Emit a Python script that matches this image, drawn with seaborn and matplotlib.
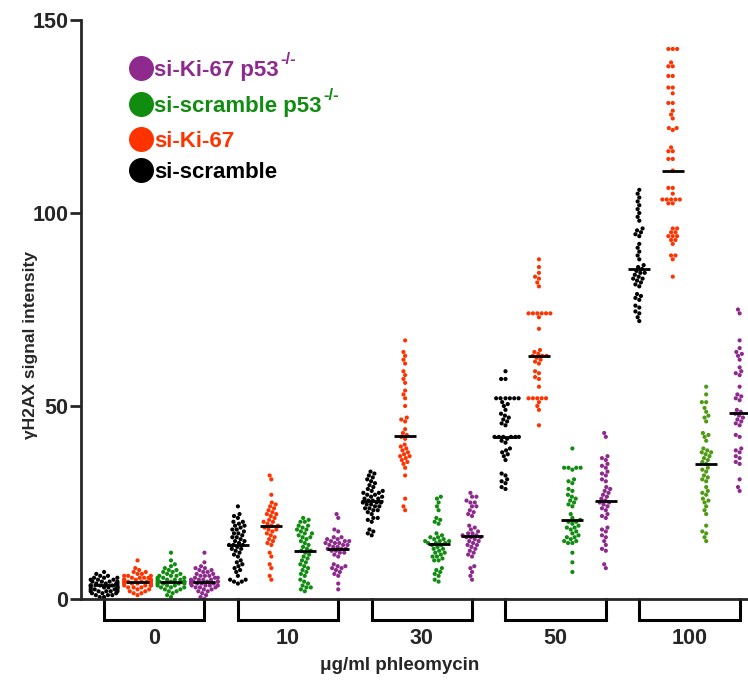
import numpy as np
import pandas as pd
import matplotlib
matplotlib.use("Agg")
import matplotlib.pyplot as plt
import matplotlib.transforms as mtransforms
import seaborn as sns

sns.set_style("ticks")
plt.rcParams["font.family"] = ["Liberation Sans", "DejaVu Sans"]

DOSES = ["0", "10", "30", "50", "100"]
CONDITIONS = ["si-scramble", "si-Ki-67", "si-scramble p53-/-", "si-Ki-67 p53-/-"]

# ---- 0 ug/ml ----
SCR_0 = [7.0, 6.5, 6.0, 6.0, 5.5, 5.5, 5.5, 5.0, 5.0, 5.0, 4.5, 4.5, 4.5, 4.5, 4.0, 4.0, 4.0, 4.0,
         3.5, 3.5, 3.5, 3.5, 3.5, 3.0, 3.0, 3.0, 3.0, 3.0, 2.5, 2.5, 2.5, 2.5, 2.0, 2.0, 2.0, 2.0,
         2.0, 1.5, 1.5, 1.5, 1.0, 1.0, 1.0, 0.5, 0.5]
KI_0 = [10.0, 8.0, 7.5, 7.0, 7.0, 6.5, 6.5, 6.0, 6.0, 6.0, 5.5, 5.5, 5.5, 5.5, 5.0, 5.0, 5.0, 5.0,
        5.0, 4.5, 4.5, 4.5, 4.5, 4.5, 4.0, 4.0, 4.0, 4.0, 3.5, 3.5, 3.5, 3.5, 3.0, 3.0, 3.0, 2.5,
        2.5, 2.0, 2.0, 1.5, 1.5, 1.0]
SCRP_0 = [12.0, 10.0, 9.0, 8.5, 8.0, 7.5, 7.5, 7.0, 7.0, 6.5, 6.5, 6.0, 6.0, 6.0, 5.5, 5.5, 5.5,
          5.0, 5.0, 5.0, 5.0, 4.5, 4.5, 4.5, 4.5, 4.5, 4.0, 4.0, 4.0, 4.0, 3.5, 3.5, 3.5, 3.0, 3.0,
          3.0, 2.5, 2.5, 2.0, 2.0, 1.5, 1.0, 0.5]
KIP_0 = [12.0, 9.5, 8.5, 8.0, 8.0, 7.5, 7.5, 7.0, 7.0, 6.5, 6.5, 6.0, 6.0, 6.0, 5.5, 5.5, 5.5,
         5.0, 5.0, 5.0, 5.0, 4.5, 4.5, 4.5, 4.5, 4.5, 4.0, 4.0, 4.0, 4.0, 3.5, 3.5, 3.5, 3.5, 3.0,
         3.0, 3.0, 2.5, 2.5, 2.0, 2.0, 1.5, 1.0, 0.5, 0.0]

# ---- 10 ug/ml ----
SCR_10 = [24.0, 22.0, 21.5, 21.0, 20.0, 20.0, 19.5, 19.0, 19.0, 18.5, 18.0, 18.0, 17.5, 17.0, 17.0,
          16.5, 16.0, 16.0, 15.5, 15.0, 15.0, 14.5, 14.0, 14.0, 14.0, 13.5, 13.0, 13.0, 12.5, 12.0,
          11.5, 11.0, 10.0, 9.5, 9.0, 8.5, 8.0, 7.5, 7.0, 6.0, 5.0, 5.0, 4.5, 4.5, 4.0]
KI_10 = [32.0, 31.0, 27.0, 25.0, 24.5, 24.0, 23.5, 23.0, 22.5, 22.0, 22.0, 21.5, 21.0, 20.5, 20.0,
         20.0, 19.5, 19.0, 19.0, 18.5, 18.0, 18.0, 17.5, 17.0, 16.5, 16.0, 15.5, 15.0, 14.5, 14.0,
         12.0, 11.0, 9.0, 8.0, 6.0, 5.0]
SCRP_10 = [21.0, 20.5, 20.0, 20.0, 19.0, 19.0, 18.5, 18.0, 18.0, 17.5, 17.0, 17.0, 16.5, 16.0, 16.0,
           15.5, 15.0, 14.5, 14.0, 13.5, 13.0, 12.5, 12.5, 12.0, 11.5, 11.0, 10.5, 10.0, 9.5, 9.0,
           8.5, 8.0, 7.5, 7.0, 6.5, 6.0, 5.0, 4.5, 4.0, 3.5, 3.0, 3.0, 2.5, 2.0]
KIP_10 = [22.0, 21.0, 18.0, 17.5, 16.0, 16.0, 15.5, 15.5, 15.0, 15.0, 15.0, 14.5, 14.5, 14.5, 14.0,
          14.0, 14.0, 13.5, 13.5, 13.0, 13.0, 13.0, 12.5, 12.5, 12.0, 12.0, 11.5, 11.0, 9.0, 8.5,
          8.5, 8.0, 8.0, 7.5, 7.0, 6.5, 6.0, 4.0, 2.5]

# ---- 30 ug/ml ----
SCR_30 = [33.0, 32.5, 32.0, 31.5, 31.0, 30.5, 30.0, 29.5, 29.0, 28.5, 28.0, 28.0, 27.5, 27.5, 27.0,
          27.0, 26.5, 26.5, 26.0, 26.0, 25.5, 25.5, 25.0, 25.0, 25.0, 24.5, 24.5, 24.0, 24.0, 23.5,
          23.5, 23.0, 23.0, 22.5, 22.0, 21.0, 21.0, 20.5, 20.0, 18.0, 17.5, 17.0, 16.5]
KI_30 = [67.0, 64.0, 63.0, 62.0, 61.0, 59.0, 58.0, 57.0, 56.0, 54.0, 53.0, 52.0, 50.0, 47.0, 46.5,
         46.0, 44.0, 43.0, 42.5, 42.0, 41.5, 40.0, 39.5, 39.0, 38.5, 38.0, 37.5, 37.0, 37.0, 36.5,
         36.0, 35.5, 35.0, 34.0, 32.0, 26.0, 24.0, 23.0]
SCRP_30 = [26.5, 26.0, 25.0, 24.0, 23.0, 21.0, 20.5, 20.0, 19.5, 17.0, 16.5, 16.0, 16.0, 15.5, 15.5,
           15.0, 15.0, 15.0, 14.5, 14.5, 14.5, 14.0, 14.0, 13.5, 13.0, 13.0, 12.5, 12.0, 12.0, 11.5,
           11.0, 11.0, 10.5, 10.0, 10.0, 8.0, 7.5, 7.0, 6.5, 6.0, 5.0, 4.5]
KIP_30 = [27.5, 26.5, 26.5, 25.5, 25.0, 25.0, 24.0, 24.0, 23.0, 22.5, 22.0, 21.5, 19.0, 18.5, 18.0,
          17.5, 17.0, 17.0, 16.5, 16.5, 16.0, 16.0, 16.0, 15.5, 15.0, 15.0, 14.5, 14.0, 14.0, 13.5,
          13.0, 12.5, 12.0, 11.5, 11.0, 8.5, 8.0, 7.0, 6.0, 5.0]

# ---- 50 ug/ml ----
SCR_50 = [59.0, 57.0, 57.0, 52.0, 52.0, 52.0, 52.0, 52.0, 52.0, 51.0, 50.5, 50.0, 49.0, 48.0, 47.5,
          47.0, 46.5, 46.0, 45.5, 45.0, 42.0, 42.0, 42.0, 42.0, 42.0, 42.0, 41.5, 41.0, 40.5, 39.0,
          38.5, 38.0, 37.5, 37.0, 36.0, 32.5, 32.0, 31.0, 30.5, 30.0, 29.0, 28.5]
KI_50 = [88.0, 86.0, 84.5, 83.5, 83.0, 82.0, 81.0, 74.0, 74.0, 74.0, 74.0, 74.0, 74.0, 73.0, 70.0,
         64.5, 64.0, 63.5, 63.0, 63.0, 63.0, 62.5, 62.0, 61.5, 61.0, 59.0, 58.5, 57.5, 57.0, 55.0,
         52.0, 52.0, 52.0, 52.0, 52.0, 51.0, 50.0, 49.0, 45.0]
SCRP_50 = [39.0, 34.0, 34.0, 34.0, 34.0, 33.5, 31.0, 30.5, 30.0, 28.5, 28.0, 27.0, 26.5, 26.0, 25.5,
           25.0, 24.5, 24.0, 22.0, 21.0, 20.5, 20.0, 20.0, 19.5, 19.0, 18.5, 18.5, 18.0, 17.5, 17.0,
           16.5, 16.0, 16.0, 15.5, 15.0, 15.0, 14.5, 14.5, 12.0, 9.5, 7.0]
KIP_50 = [43.0, 42.0, 37.0, 36.5, 36.0, 35.0, 34.5, 34.0, 33.0, 32.5, 32.0, 31.0, 30.5, 29.0, 28.5,
          28.0, 27.5, 27.0, 26.5, 26.0, 25.5, 25.0, 25.0, 24.5, 24.0, 23.5, 23.0, 22.0, 21.5, 21.0,
          18.5, 18.0, 17.5, 16.5, 16.0, 15.0, 14.0, 13.0, 12.5, 9.0, 8.0]

# ---- 100 ug/ml ----
SCR_100 = [106.0, 105.0, 104.0, 103.0, 102.0, 101.0, 100.0, 99.0, 98.0, 96.0, 95.5, 95.0, 94.5, 94.0,
           92.0, 91.0, 90.0, 89.0, 88.0, 86.5, 86.0, 85.5, 85.0, 84.5, 84.5, 84.0, 83.5, 83.0, 83.0,
           82.5, 82.0, 81.5, 81.0, 79.0, 78.5, 78.0, 77.5, 76.0, 75.5, 74.5, 74.0, 73.0, 72.0]
KI_100 = [142.5, 142.5, 142.5, 139.0, 138.0, 138.0, 135.5, 135.5, 132.5, 132.5, 131.0, 128.5, 128.5,
          126.5, 125.5, 124.5, 122.0, 122.0, 121.5, 117.0, 116.0, 116.0, 114.0, 114.0, 111.0,
          106.5, 106.5, 105.0, 103.5, 103.5, 103.5, 103.5, 103.5, 102.5, 102.5, 96.0, 96.0, 95.0,
          95.0, 94.0, 94.0, 94.0, 93.0, 93.0, 92.0, 89.0, 89.0, 88.0, 83.5]
SCRP_100 = [55.0, 53.0, 51.0, 51.0, 49.5, 48.5, 47.5, 47.0, 46.0, 43.0, 42.5, 42.0, 41.0, 39.0, 38.5,
            38.0, 38.0, 37.5, 37.0, 36.5, 36.0, 35.5, 35.0, 34.0, 33.5, 33.0, 32.0, 31.5, 31.0, 30.5,
            29.0, 28.0, 27.5, 27.0, 26.0, 25.5, 25.0, 24.0, 23.0, 22.0, 19.0, 17.5, 17.0, 16.0, 15.0]
KIP_100 = [75.0, 74.0, 67.0, 65.0, 64.0, 63.5, 63.0, 62.0, 60.0, 59.0, 58.5, 58.0, 55.0, 53.0, 52.5,
           52.0, 51.5, 49.0, 48.5, 48.0, 47.5, 47.0, 46.5, 46.0, 45.5, 45.0, 42.5, 42.0, 39.0, 38.5,
           38.0, 37.0, 36.5, 35.5, 35.0, 31.0, 29.0, 28.0]

GROUPS = [
    [SCR_0, KI_0, SCRP_0, KIP_0],
    [SCR_10, KI_10, SCRP_10, KIP_10],
    [SCR_30, KI_30, SCRP_30, KIP_30],
    [SCR_50, KI_50, SCRP_50, KIP_50],
    [SCR_100, KI_100, SCRP_100, KIP_100],
]

COLORS = {
    "si-scramble": "#000000",
    "si-Ki-67": "#ff3300",
    "si-scramble p53-/-": "#108c10",
    "si-Ki-67 p53-/-": "#8e2a8e",
    "si-scramble p53-/- 100": "#4f9a14",
}

rows = []
order = []
for dose, vals in zip(DOSES, GROUPS):
    for cond, v in zip(CONDITIONS, vals):
        pos = f"{dose} | {cond}"
        order.append(pos)
        key = cond + " 100" if (dose == "100" and cond == "si-scramble p53-/-") else cond
        for y in v:
            rows.append({"pos": pos, "value": y, "key": key})
df = pd.DataFrame(rows)

fig = plt.figure(figsize=(7.48, 6.89), dpi=100)
ax = fig.add_axes([81 / 748, 90 / 689, 667 / 748, 579 / 689])

sns.swarmplot(data=df, x="pos", y="value", hue="key", order=order, palette=COLORS,
              size=3.0, linewidth=0, legend=False, ax=ax, clip_on=False, zorder=2)

# median lines
for i, pos in enumerate(order):
    med = np.median(df.loc[df["pos"] == pos, "value"])
    ax.hlines(med, i - 0.33, i + 0.33, color="black", lw=2, zorder=3)

ax.set_xlim(-0.69, 19.25)
ax.set_ylim(0, 150)
ax.set_xlabel("")
ax.set_ylabel("")
ax.set_xticks([])
ax.set_yticks([0, 50, 100, 150])
ax.set_yticklabels(["0", "50", "100", "150"], fontsize=15.5, fontweight="bold")
ax.tick_params(axis="y", length=8, width=2, pad=1)
for side in ["top", "right"]:
    ax.spines[side].set_visible(False)
for side in ["left", "bottom"]:
    ax.spines[side].set_linewidth(2)

# brackets under each dose group
trans = mtransforms.blended_transform_factory(ax.transData, ax.transAxes)
for g, dose in enumerate(DOSES):
    x0, x1 = 4 * g, 4 * g + 3
    ax.plot([x0, x0, x1, x1], [0, -0.036, -0.036, 0], color="black", lw=2.2,
            clip_on=False, transform=trans, solid_joinstyle="miter")
    ax.text(4 * g + 1.5, -0.068, dose, transform=trans, ha="center", va="center",
            fontsize=15.5, fontweight="bold")

fig.text(400 / 748, 1 - 666 / 689, "\u03bcg/ml phleomycin", ha="center", va="center",
         fontsize=13.5, fontweight="bold")
fig.text(31 / 748, 1 - 345 / 689, "\u03b3H2AX signal intensity", ha="center", va="center",
         rotation=90, fontsize=12.5, fontweight="bold")

# legend drawn as coloured dots with coloured bold labels
LEGEND_NAMES = ["si-Ki-67 p53", "si-scramble p53", "si-Ki-67", "si-scramble"]
LEGEND_SUPS = ["-/-", "-/-", "", ""]
LEGEND_KEYS = ["si-Ki-67 p53-/-", "si-scramble p53-/-", "si-Ki-67", "si-scramble"]
LEGEND_Y = [68, 104, 139, 170]

fig.canvas.draw()
renderer = fig.canvas.get_renderer()
for name, sup, key, yp in zip(LEGEND_NAMES, LEGEND_SUPS, LEGEND_KEYS, LEGEND_Y):
    col = COLORS[key]
    yf = 1 - yp / 689
    ax.scatter([140.5 / 748], [yf], s=18 ** 2, color=col, transform=fig.transFigure,
               clip_on=False, linewidths=0)
    t = fig.text(154.5 / 748, yf, name, color=col, fontsize=16, fontweight="bold",
                 ha="left", va="center_baseline")
    if sup:
        bb = t.get_window_extent(renderer)
        fig.text(bb.x1 / 748 + 0.002, yf + 8 / 689, sup, color=col, fontsize=12,
                 fontweight="bold", ha="left", va="center")

fig.savefig("out.png", dpi=100)
